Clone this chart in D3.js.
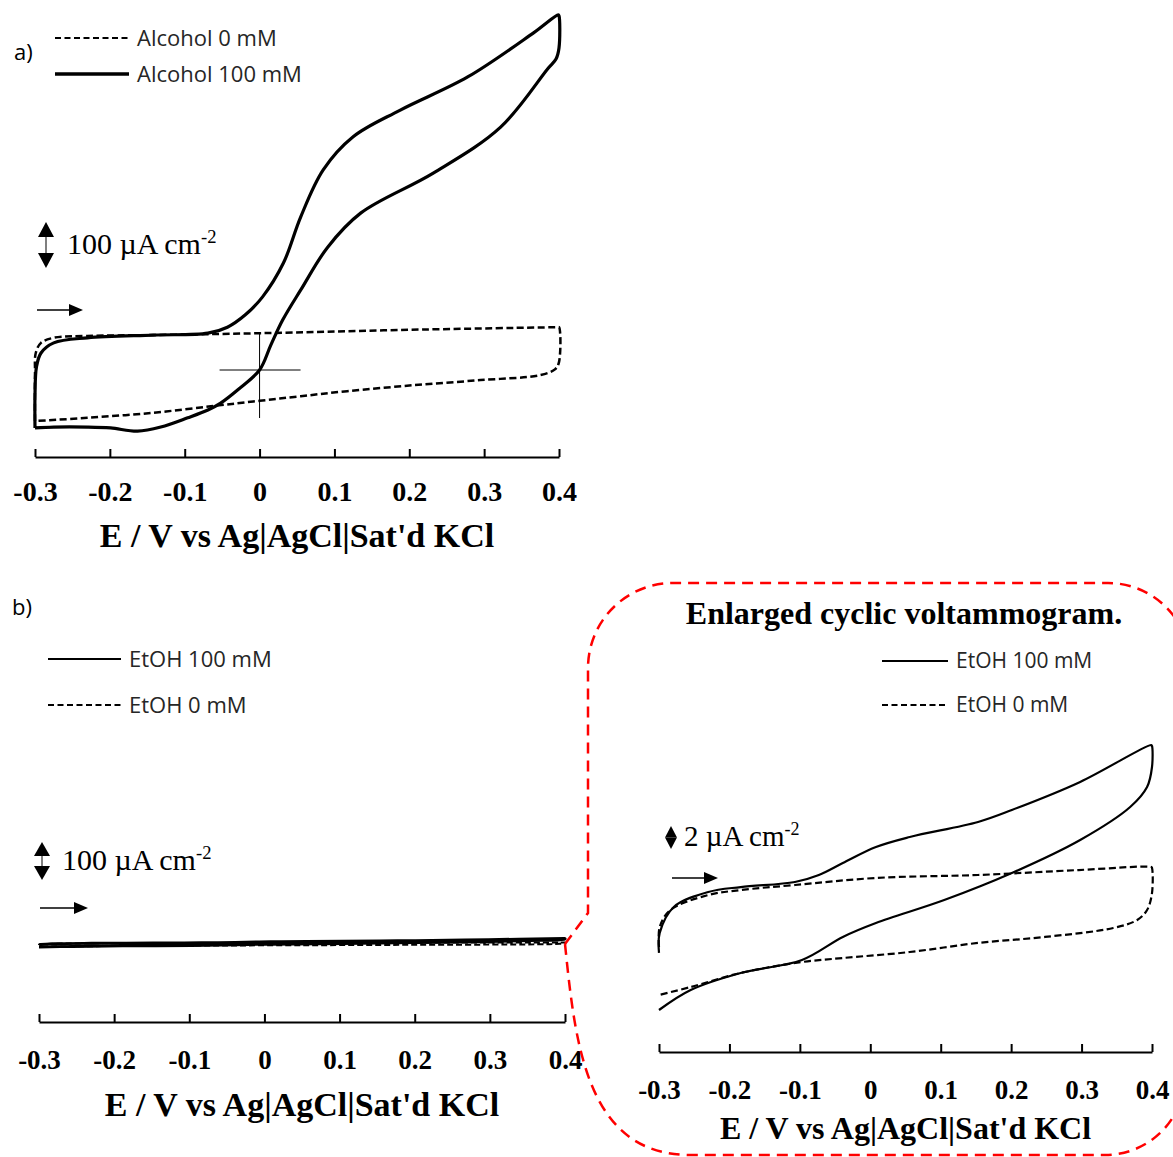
<!DOCTYPE html>
<html>
<head>
<meta charset="utf-8">
<script src="https://cdn.jsdelivr.net/npm/d3@7"></script>
<style>
  html, body { margin: 0; padding: 0; background: #fff; }
  svg { display: block; }
</style>
</head>
<body>
<svg id="fig" width="1173" height="1157"></svg>
<script>
// ---- Potential axis (shared by all three voltammograms) ----
const potentialTicks = [-0.3, -0.2, -0.1, 0, 0.1, 0.2, 0.3, 0.4];
const tickLabels = ["-0.3", "-0.2", "-0.1", "0", "0.1", "0.2", "0.3", "0.4"];
const axisTitle = "E / V vs Ag|AgCl|Sat'd KCl";

// ---- (a) cyclic voltammograms, [E / V, j / µA cm-2] ----
const alcohol0mM = [
  [-0.300, -111], [-0.300, -7], [-0.299, 37], [-0.292, 59], [-0.275, 70],
  [-0.230, 74], [-0.142, 76], [0.000, 80], [0.188, 87], [0.398, 93],
  [0.400, 93], [0.400, 17], [0.395, 2], [0.375, -11], [0.295, -22],
  [0.206, -33], [0.117, -46], [0.055, -57], [0.000, -67], [-0.061, -78],
  [-0.142, -93], [-0.230, -104], [-0.300, -111]
];
const alcohol100mM = [
  [-0.300, -126], [-0.300, -54], [-0.298, 7], [-0.292, 37], [-0.275, 59],
  [-0.230, 70], [-0.142, 76], [-0.069, 80], [-0.043, 93], [-0.019, 120],
  [0.004, 159], [0.032, 233], [0.055, 333], [0.085, 435], [0.125, 507],
  [0.188, 565], [0.278, 637], [0.366, 733], [0.399, 772], [0.400, 770],
  [0.400, 700], [0.396, 676], [0.385, 655], [0.322, 528], [0.232, 428],
  [0.135, 341], [0.091, 267], [0.055, 174], [0.031, 109], [0.015, 54],
  [0.000, 0], [-0.029, -43], [-0.052, -72], [-0.069, -87], [-0.096, -104],
  [-0.132, -124], [-0.163, -133], [-0.199, -126], [-0.230, -124], [-0.275, -124],
  [-0.300, -126]
];

// ---- (b) ethanol voltammograms, [E / V, j / µA cm-2] ----
const etoh100mM = [
  [-0.300, -3.30], [-0.299, -1.57], [-0.279, 0.70], [-0.230, 2.00], [-0.184, 2.43],
  [-0.107, 2.87], [-0.073, 3.48], [-0.039, 4.52], [0.008, 5.91], [0.056, 6.78],
  [0.153, 8.09], [0.201, 9.13], [0.298, 11.57], [0.399, 14.78], [0.400, 14.70],
  [0.400, 12.87], [0.393, 11.13], [0.369, 9.39], [0.298, 6.52], [0.201, 3.65],
  [0.105, 1.30], [0.008, -0.70], [-0.039, -1.91], [-0.097, -3.91], [-0.184, -5.04],
  [-0.255, -6.52], [-0.300, -8.26]
];
const etoh0mM = [
  [-0.300, -2.78], [-0.299, -1.04], [-0.284, 0.43], [-0.230, 1.74], [-0.184, 2.17],
  [-0.107, 2.61], [0.008, 3.22], [0.153, 3.48], [0.296, 3.91], [0.399, 4.17],
  [0.400, 4.10], [0.400, 1.91], [0.393, 0.43], [0.379, -0.43], [0.345, -1.13],
  [0.248, -1.91], [0.153, -2.43], [0.056, -3.22], [-0.039, -3.74], [-0.097, -4.09],
  [-0.184, -5.04], [-0.255, -6.26], [-0.300, -6.96]
];

// ---- scale-bar values (µA cm-2) ----
const scaleBarA = 100;
const scaleBarB = 100;
const scaleBarZoom = 2;

// ---- drawing ----
const svg = d3.select("#fig");
svg.append("rect").attr("width", 1173).attr("height", 1157).attr("fill", "#fff");

const serif = "'Liberation Serif','Times New Roman',serif";
const sans = "'Open Sans','Noto Sans','DejaVu Sans',sans-serif";
const legendInk = "#262626";

// Panel geometry
const panels = {
  a: { x0: 35, x1: 559, axisY: 457, zeroY: 370, pxPerUnit: 0.46, labelPad: 34, titleY: 535, titleSize: 34, tickSize: 28 },
  b: { x0: 39, x1: 565, axisY: 1022, zeroY: 944, pxPerUnit: 0.38, labelPad: 38, titleY: 1104, titleSize: 34, tickSize: 27 },
  c: { x0: 659, x1: 1152, axisY: 1052, zeroY: 915, pxPerUnit: 11.5, labelPad: 38, titleY: 1128, titleSize: 32, tickSize: 27 }
};

function makeScales(p) {
  const x = d3.scaleLinear().domain([-0.3, 0.4]).range([p.x0, p.x1]);
  const y = d3.scaleLinear().domain([0, 1]).range([p.zeroY, p.zeroY - p.pxPerUnit]);
  return { x, y };
}

function drawAxis(p, x) {
  const axis = d3.axisBottom(x)
    .tickValues(potentialTicks)
    .tickFormat((d, i) => tickLabels[i])
    .tickSizeInner(-8)
    .tickSizeOuter(0)
    .tickPadding(p.labelPad);
  const g = svg.append("g").attr("transform", `translate(0,${p.axisY})`).call(axis);
  g.select(".domain").attr("stroke", "#000").attr("stroke-width", 2);
  g.selectAll(".tick line").attr("stroke", "#000").attr("stroke-width", 2);
  g.selectAll(".tick text")
    .attr("font-family", serif).attr("font-weight", "bold")
    .attr("font-size", p.tickSize).attr("fill", "#000").attr("dy", "0.35em");
  svg.append("text")
    .attr("x", (p.x0 + p.x1) / 2).attr("y", p.titleY).attr("dy", "0.35em")
    .attr("text-anchor", "middle")
    .attr("font-family", serif).attr("font-weight", "bold")
    .attr("font-size", p.titleSize).attr("fill", "#000")
    .text(axisTitle);
}

function drawCurve(data, s, width, dash) {
  const line = d3.line()
    .x(d => s.x(d[0])).y(d => s.y(d[1]))
    .curve(d3.curveCatmullRom.alpha(0.5));
  svg.append("path").datum(data)
    .attr("d", line)
    .attr("fill", "none").attr("stroke", "#000")
    .attr("stroke-width", width)
    .attr("stroke-linejoin", "round")
    .attr("stroke-dasharray", dash || null);
}

function legendItem(x, y, len, width, dash, label, size) {
  svg.append("line").attr("x1", x).attr("x2", x + len).attr("y1", y).attr("y2", y)
    .attr("stroke", "#000").attr("stroke-width", width)
    .attr("stroke-dasharray", dash || null);
  svg.append("text").attr("x", x + len + 8).attr("y", y).attr("dy", "0.35em")
    .attr("font-family", sans).attr("font-size", size).attr("fill", legendInk)
    .text(label);
}

function tri(cx, tipY, baseY, halfW) {
  svg.append("path")
    .attr("d", `M${cx},${tipY} L${cx - halfW},${baseY} L${cx + halfW},${baseY} Z`)
    .attr("fill", "#000");
}

// double-headed scale bar spanning `value` on the panel's current scale
function scaleBar(cx, top, s, value, head, halfW, gap, label, size) {
  const len = s.y(0) - s.y(value);
  const bottom = top + len;
  if (len > 2 * head) {
    svg.append("line").attr("x1", cx).attr("x2", cx).attr("y1", top + head).attr("y2", bottom - head)
      .attr("stroke", "#555").attr("stroke-width", 1.5);
  }
  const h = Math.min(head, len / 2);
  tri(cx, top, top + h, halfW);
  tri(cx, bottom, bottom - h, halfW);
  const t = svg.append("text")
    .attr("x", cx + halfW + gap).attr("y", (top + bottom) / 2).attr("dy", "0.3em")
    .attr("font-family", serif).attr("font-size", size).attr("fill", "#000");
  t.append("tspan").text(label);
  t.append("tspan").attr("font-size", size * 0.62).attr("dy", -size * 0.38).text("-2");
}

function sweepArrow(x0, x1, y, head, halfH) {
  svg.append("line").attr("x1", x0).attr("x2", x1 - head + 1).attr("y1", y).attr("y2", y)
    .attr("stroke", "#000").attr("stroke-width", 1.5);
  svg.append("path")
    .attr("d", `M${x1},${y} L${x1 - head},${y - halfH} L${x1 - head},${y + halfH} Z`)
    .attr("fill", "#000");
}

// ---------- panel (a) ----------
const sa = makeScales(panels.a);
drawAxis(panels.a, sa.x);
// origin cross (0 V, 0 µA cm-2)
svg.append("line").attr("x1", sa.x(0)).attr("x2", sa.x(0))
  .attr("y1", sa.y(0) - 37).attr("y2", sa.y(0) + 48).attr("stroke", "#000").attr("stroke-width", 1);
svg.append("line").attr("x1", sa.x(0) - 40).attr("x2", sa.x(0) + 41)
  .attr("y1", sa.y(0)).attr("y2", sa.y(0)).attr("stroke", "#000").attr("stroke-width", 1);
drawCurve(alcohol0mM, sa, 2.5, "7,3.5");
drawCurve(alcohol100mM, sa, 3.2);
legendItem(55, 38, 74, 2, "6,3.5", "Alcohol 0 mM", 22);
legendItem(55, 74, 74, 3.5, null, "Alcohol 100 mM", 22);
svg.append("text").attr("x", 14).attr("y", 52).attr("dy", "0.35em")
  .attr("font-family", sans).attr("font-size", 22).attr("fill", "#000").text("a)");
scaleBar(46, 222, sa, scaleBarA, 15, 8, 13, "100 µA cm", 30);
sweepArrow(37, 83, 310, 14, 6);

// ---------- panel (b) ----------
const sb = makeScales(panels.b);
drawAxis(panels.b, sb.x);
drawCurve(etoh0mM, sb, 2, "6,3");
drawCurve(etoh100mM, sb, 2.8);
svg.append("text").attr("x", 12).attr("y", 607).attr("dy", "0.35em")
  .attr("font-family", sans).attr("font-size", 22).attr("fill", "#000").text("b)");
legendItem(48, 659, 73, 2, null, "EtOH 100 mM", 22);
legendItem(48, 705, 73, 2, "6,3.5", "EtOH 0 mM", 22);
scaleBar(42, 842, sb, scaleBarB, 14, 8, 12, "100 µA cm", 30);
sweepArrow(40, 88, 908, 14, 6);

// ---------- enlarged view ----------
const sc = makeScales(panels.c);
drawAxis(panels.c, sc.x);
drawCurve(etoh0mM, sc, 2.2, "7,3.5");
drawCurve(etoh100mM, sc, 2.2);
svg.append("text").attr("x", 904).attr("y", 613).attr("dy", "0.35em")
  .attr("text-anchor", "middle")
  .attr("font-family", serif).attr("font-weight", "bold")
  .attr("font-size", 32).attr("fill", "#000").text("Enlarged cyclic voltammogram.");
legendItem(882, 661, 66, 2, null, "EtOH 100 mM", 21);
legendItem(882, 705, 66, 2, "6,3.5", "EtOH 0 mM", 21);
scaleBar(671, 826, sc, scaleBarZoom, 13, 6, 7, "2 µA cm", 29);
sweepArrow(672, 718, 878, 14, 6);

// red dashed call-out linking panel (b) to the enlarged view
const calloutStyle = g => g.attr("fill", "none").attr("stroke", "#ff0000")
  .attr("stroke-width", 2.5).attr("stroke-dasharray", "11,7");
const anchor = [sb.x(0.4), sb.y(0)];
svg.append("path")
  .attr("d", `M${anchor[0]},${anchor[1]} L588,913 L588,668 A85,85 0 0 1 673,583 L1108,583 A82,82 0 0 1 1190,665`)
  .call(calloutStyle);
svg.append("path")
  .attr("d", `M${anchor[0]},${anchor[1]} C575,1040 585,1155 690,1155 L1105,1155 A80,80 0 0 0 1185,1075`)
  .call(calloutStyle);
</script>
</body>
</html>
